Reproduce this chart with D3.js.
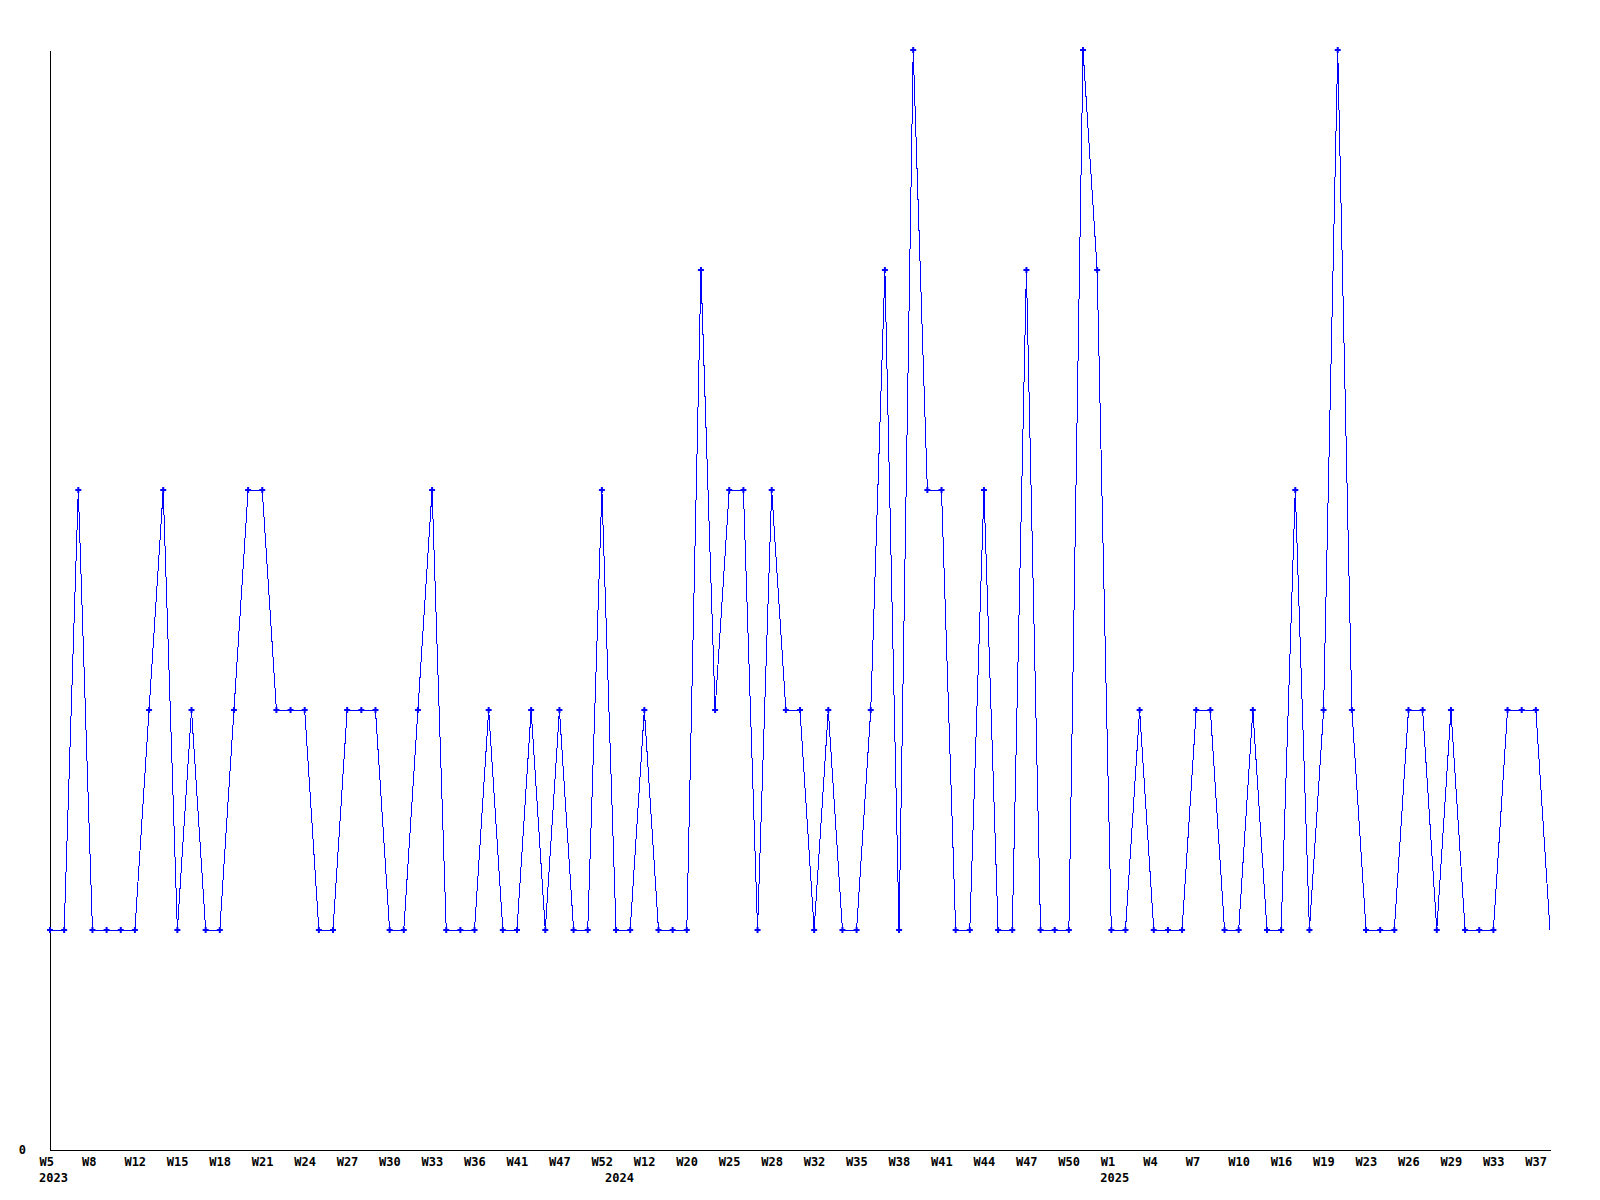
<!DOCTYPE html>
<html>
<head>
<meta charset="utf-8">
<script src="https://cdn.jsdelivr.net/npm/d3@7"></script>
<style>
  body { margin: 0; background: #fff; }
  text { font-family: "DejaVu Sans Mono", monospace; font-weight: bold; font-size: 12px; fill: #000; }
</style>
</head>
<body>
<div id="my_dataviz"></div>
<script>
// weekly counts, one per data point (only weeks that appear in the data)
var counts = [1,1,3,1,1,1,1,2,3,1,2,1,1,2,3,3,2,2,2,1,
              1,2,2,2,1,1,2,3,1,1,1,2,1,1,2,1,2,1,1,3,
              1,1,2,1,1,1,4,2,3,3,1,3,2,2,1,2,1,1,2,4,
              1,5,3,3,1,1,3,1,1,4,1,1,1,5,4,1,1,2,1,1,
              1,2,2,1,1,2,1,1,3,1,2,5,2,1,1,1,2,2,1,2,
              1,1,1,2,2,2,1]

// labels shown every third point
var weekLabels = ["W5","W8","W12","W15","W18","W21","W24","W27","W30","W33",
                  "W36","W41","W47","W52","W12","W20","W25","W28","W32","W35",
                  "W38","W41","W44","W47","W50","W1","W4","W7","W10","W16",
                  "W19","W23","W26","W29","W33","W37"]

// first point of each year
var years = ["2023","2024","2025"]
var yearStart = [0, 40, 75]

var yMax = 5

var margin = {top: 50, right: 50, bottom: 50, left: 50},
    width = 1600 - margin.left - margin.right,
    height = 1200 - margin.top - margin.bottom

var svg = d3.select("#my_dataviz")
  .append("svg")
    .attr("width", 1600)
    .attr("height", 1200)
  .append("g")
    .attr("transform", "translate(" + margin.left + "," + margin.top + ")")

var data = counts.map(function(v, i) { return {i: i, v: v} })

var x = d3.scaleLinear()
  .domain([0, counts.length - 1])
  .range([0, width])

var y = d3.scaleLinear()
  .domain([0, yMax])
  .range([height, 0])

// X axis, labels hang a bit left of the point
var tickIdx = weekLabels.map(function(d, k) { return k * 3 })
var xAxis = svg.append("g")
  .attr("transform", "translate(0," + height + ")")
  .call(d3.axisBottom(x).tickValues(tickIdx).tickSize(0).tickSizeOuter(0)
        .tickFormat(function(d) { return weekLabels[d / 3] }))
xAxis.select(".domain").attr("stroke", "#000").attr("shape-rendering", "crispEdges")
xAxis.selectAll(".tick text")
  .attr("text-anchor", "start")
  .attr("font-family", null).attr("font-size", null)
  .attr("x", -11)
  .attr("y", 0)
  .attr("dy", null)
  .attr("transform", "translate(0,15.5)")

// year line under the week labels
svg.append("g")
  .selectAll("text")
  .data(years)
  .enter()
  .append("text")
    .attr("x", function(d, k) { return x(yearStart[k]) - 11 })
    .attr("y", height + 31.5)
    .text(function(d) { return d })

// Y axis, only the zero label
var yAxis = svg.append("g")
  .call(d3.axisLeft(y).tickValues([0]).tickFormat(d3.format("d"))
        .tickSize(0).tickSizeOuter(0).tickPadding(24))
yAxis.select(".domain").attr("stroke", "#000").attr("shape-rendering", "crispEdges")
yAxis.selectAll(".tick text")
  .attr("font-family", null).attr("font-size", null)
  .attr("dy", "0.32em")

// the line
svg.append("path")
  .datum(data)
  .attr("fill", "none")
  .attr("stroke", "#0000ff")
  .attr("stroke-width", 1)
  .attr("shape-rendering", "crispEdges")
  .attr("d", d3.line()
    .x(function(d) { return x(d.i) })
    .y(function(d) { return y(d.v) }))

// small plus markers (the last, partial week has none)
svg.append("g")
  .selectAll("path")
  .data(data.slice(0, -1))
  .enter()
  .append("path")
    .attr("transform", function(d) { return "translate(" + x(d.i) + "," + y(d.v) + ")" })
    .attr("d", d3.symbol().type(d3.symbolCross).size(20))
    .attr("fill", "#0000ff")
</script>
</body>
</html>
